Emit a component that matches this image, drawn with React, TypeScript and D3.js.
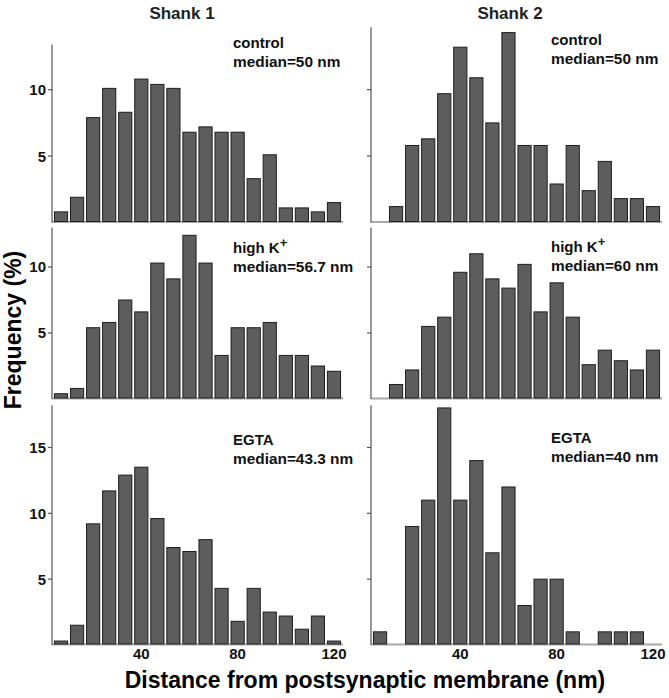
import React from "react";
import * as d3 from "d3";

// Bin centres (nm) – 18 bins of 6.67 nm
const binCenters = [6.67, 13.33, 20, 26.67, 33.33, 40, 46.67, 53.33, 60, 66.67, 73.33, 80, 86.67, 93.33, 100, 106.67, 113.33, 120];
const binWidth = 6.667;

// Frequencies (%)
const shank1Control = [0.8, 1.9, 7.9, 10.1, 8.3, 10.8, 10.4, 10.1, 6.8, 7.2, 6.8, 6.8, 3.3, 5.1, 1.1, 1.1, 0.8, 1.5];
const shank2Control = [0, 1.2, 5.8, 6.3, 9.7, 13.2, 10.9, 7.5, 14.3, 5.8, 5.8, 2.9, 5.8, 2.4, 4.6, 1.8, 1.8, 1.2];
const shank1HighK = [0.4, 0.8, 5.4, 5.8, 7.5, 6.6, 10.3, 9.1, 12.4, 10.3, 3.3, 5.4, 5.4, 5.8, 3.3, 3.3, 2.5, 2.1];
const shank2HighK = [0, 1.1, 2.2, 5.5, 6.2, 9.6, 11.0, 9.1, 8.4, 10.2, 6.6, 8.8, 6.2, 2.6, 3.7, 2.9, 2.2, 3.7];
const shank1EGTA = [0.3, 1.5, 9.2, 11.7, 12.9, 13.5, 9.6, 7.4, 7.1, 8.0, 4.3, 1.8, 4.3, 2.5, 2.2, 1.2, 2.2, 0.3];
const shank2EGTA = [1, 0, 9, 11, 18, 11, 14, 7, 12, 3, 5, 5, 1, 0, 1, 1, 1, 0];

const columnTitles = ["Shank 1", "Shank 2"];
const conditionLabels = ["control", "high K", "EGTA"];
const medianLabels = ["median=50 nm", "median=50 nm", "median=56.7 nm", "median=60 nm", "median=43.3 nm", "median=40 nm"];
const xTickValues = [40, 80, 120];
const yTickValuesByRow = [[5, 10], [5, 10], [5, 10, 15]];
// axis top extents (in %) per panel
const axisMax = [13.4, 14.7, 13.0, 13.0, 18.2, 18.2];
const xTitle = "Distance from postsynaptic membrane (nm)";
const yTitle = "Frequency (%)";

const FONT = "'Liberation Sans', Arial, Helvetica, sans-serif";

export default function App() {
  const W = 669, H = 698;
  const colLeft = [53, 372];
  const plotW = 289;
  const rowZero = [222.5, 399, 645];
  const rowPpu = [13.28, 13.2, 13.17];
  const rowDomain = [14.7, 13.0, 18.2];
  const panels = [
    [shank1Control, shank2Control],
    [shank1HighK, shank2HighK],
    [shank1EGTA, shank2EGTA],
  ];
  const annotX = [233, 551];
  const annotY = [[48, 45], [253, 252], [445, 443]];
  const titleX = [182, 510];

  const fill = "#5d5d5d";
  const stroke = "#1e1e1e";

  return (
    <svg width={W} height={H} style={{ position: "absolute", left: 0, top: 0, background: "#fff" }}>
      <rect x={0} y={0} width={W} height={H} fill="#fff" />
      {columnTitles.map((t, c) => (
        <text key={t} x={titleX[c]} y={19} textAnchor="middle" fontFamily={FONT} fontWeight="bold" fontSize={17} fill="#222">{t}</text>
      ))}
      {panels.map((row, r) =>
        row.map((vals, c) => {
          const x = d3.scaleLinear().domain([binWidth / 2, 120 + binWidth / 2]).range([colLeft[c], colLeft[c] + plotW]);
          const y = d3.scaleLinear().domain([0, rowDomain[r]]).range([rowZero[r], rowZero[r] - rowDomain[r] * rowPpu[r]]);
          const bw = (x(binWidth) - x(0)) * 0.82;
          const axX = colLeft[c] - 1;
          const pi = r * 2 + c;
          return (
            <g key={`${r}-${c}`}>
              {/* baseline */}
              <line x1={axX} x2={colLeft[c] + plotW + 1} y1={y(0) - 0.5} y2={y(0) - 0.5} stroke="#a8a8a8" strokeWidth={2} />
              {/* bars */}
              {vals.map((v, i) =>
                v > 0 ? (
                  <rect key={i} x={x(binCenters[i]) - bw / 2} y={y(v)} width={bw} height={y(0) - y(v) - 1} fill={fill} stroke={stroke} strokeWidth={1} />
                ) : null
              )}
              {/* y axis */}
              <line x1={axX} x2={axX} y1={y(axisMax[pi])} y2={y(0)} stroke="#555" strokeWidth={1.2} />
              {yTickValuesByRow[r].filter((t) => t <= axisMax[pi]).map((t) => (
                <g key={t}>
                  <line x1={axX - 4} x2={axX} y1={y(t)} y2={y(t)} stroke="#555" strokeWidth={1.2} />
                  {c === 0 && (
                    <text x={axX - 6} y={y(t)} dy="0.36em" textAnchor="end" fontFamily={FONT} fontWeight="bold" fontSize={15} fill="#111">{t}</text>
                  )}
                </g>
              ))}
              {/* x tick labels on bottom row */}
              {r === 2 && xTickValues.map((t) => (
                <text key={t} x={x(t)} y={659} textAnchor="middle" fontFamily={FONT} fontWeight="bold" fontSize={15} fill="#111">{t}</text>
              ))}
              {/* annotations */}
              <text x={annotX[c]} y={annotY[r][c]} fontFamily={FONT} fontWeight="bold" fontSize={15} fill="#111">
                {conditionLabels[r]}
                {r === 1 && <tspan dy={-6} fontSize={13}>+</tspan>}
              </text>
              <text x={annotX[c]} y={annotY[r][c] + 18.5} fontFamily={FONT} fontWeight="bold" fontSize={15.4} fill="#111">{medianLabels[pi]}</text>
            </g>
          );
        })
      )}
      <text x={365} y={688} textAnchor="middle" fontFamily={FONT} fontWeight="bold" fontSize={23} fill="#000">{xTitle}</text>
      <text transform="translate(21,330) rotate(-90)" textAnchor="middle" fontFamily={FONT} fontWeight="bold" fontSize={23} fill="#000">{yTitle}</text>
    </svg>
  );
}
